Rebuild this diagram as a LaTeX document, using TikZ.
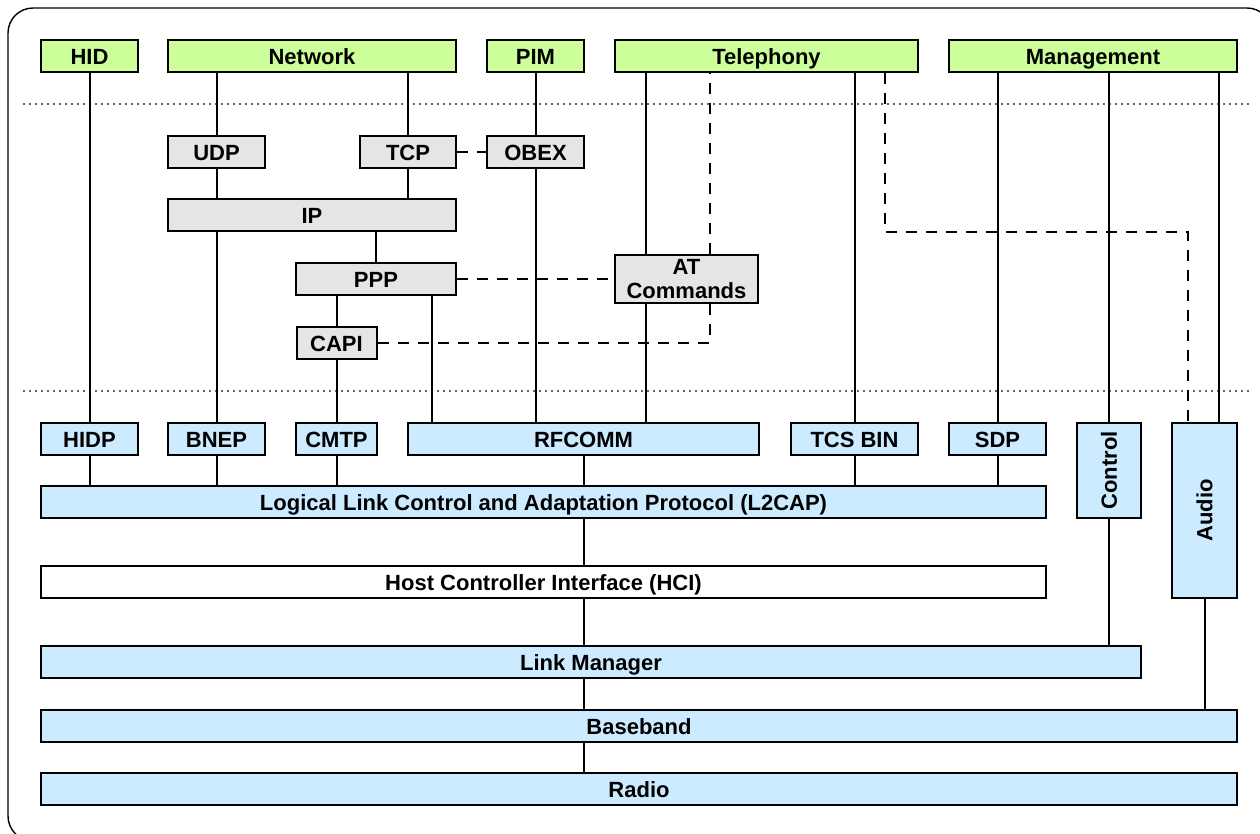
\documentclass[tikz,border=0pt]{standalone}
\usepackage{fontspec}
\setmainfont{Liberation Sans}
\usepackage{graphicx}
\usetikzlibrary{calc}
\definecolor{appgreen}{RGB}{204,255,153}
\definecolor{midgray}{RGB}{229,229,229}
\definecolor{coreblue}{RGB}{204,235,255}
\tikzset{
 base/.style={draw, line width=2pt, inner sep=0pt, font=\bfseries\fontsize{22}{24}\selectfont},
 lbl/.style={text height=16pt, text depth=0pt},
 app/.style={base, lbl, fill=appgreen},
 mid/.style={base, lbl, fill=midgray},
 core/.style={base, lbl, fill=coreblue},
 plain/.style={base, lbl, fill=white},
 wire/.style={line width=2pt},
 dwire/.style={line width=2pt, dash pattern=on 11pt off 9pt},
 sep/.style={line width=1.2pt, dash pattern=on 1.5pt off 4.5pt, black!60}
}
\begin{document}
\begin{tikzpicture}[x=1pt,y=-1pt]
\useasboundingbox (0,0) rectangle (1260,833);
\clip (0,0) rectangle (1260,833);
\draw[line width=1.4pt, rounded corners=25pt] (8,8) rectangle (1272,841);
\draw[sep] (23,104) -- (1250,104);
\draw[sep] (23,391) -- (1250,391);
% application layer
\node[app, minimum width=97pt, minimum height=32pt] (hid) at (89.5,56) {HID};
\node[app, minimum width=288pt, minimum height=32pt] (net) at (312,56) {Network};
\node[app, minimum width=97pt, minimum height=32pt] (pim) at (535.5,56) {PIM};
\node[app, minimum width=303pt, minimum height=32pt] (tel) at (766.5,56) {Telephony};
\node[app, minimum width=288pt, minimum height=32pt] (mgmt) at (1093,56) {Management};
% middleware
\node[mid, minimum width=97pt, minimum height=32pt] (udp) at (216.5,152) {UDP};
\node[mid, minimum width=96pt, minimum height=32pt] (tcp) at (408,152) {TCP};
\node[mid, minimum width=97pt, minimum height=32pt] (obex) at (535.5,152) {OBEX};
\node[mid, minimum width=288pt, minimum height=32pt] (ip) at (312,215) {IP};
\node[mid, minimum width=160pt, minimum height=32pt] (ppp) at (376,279) {PPP};
\node[mid, minimum width=80pt, minimum height=32pt] (capi) at (336.5,343) {CAPI};
\node[base, fill=midgray, align=center, minimum width=143pt, minimum height=48pt] (atcmd) at (686.5,279) {AT\\Commands};
% core protocols
\node[core, minimum width=97pt, minimum height=32pt] (hidp) at (89.5,439) {HIDP};
\node[core, minimum width=97pt, minimum height=32pt] (bnep) at (216.5,439) {BNEP};
\node[core, minimum width=81pt, minimum height=32pt] (cmtp) at (336.5,439) {CMTP};
\node[core, minimum width=351pt, minimum height=32pt] (rfcomm) at (583.5,439) {RFCOMM};
\node[core, minimum width=127pt, minimum height=32pt] (tcsbin) at (854.5,439) {TCS BIN};
\node[core, minimum width=97pt, minimum height=32pt] (sdp) at (997.5,439) {SDP};
\node[base, fill=coreblue, minimum width=64pt, minimum height=95pt] (ctrl) at (1109,470.5) {\rotatebox{90}{Control}};
\node[base, fill=coreblue, minimum width=65pt, minimum height=175pt] (audio) at (1204.5,510.5) {\rotatebox{90}{Audio}};
\node[core, minimum width=1005pt, minimum height=32pt] (l2cap) at (543.5,502) {Logical Link Control and Adaptation Protocol (L2CAP)};
\node[plain, minimum width=1005pt, minimum height=32pt] (hci) at (543.5,582) {Host Controller Interface (HCI)};
\node[core, minimum width=1100pt, minimum height=32pt] (lm) at (591,662) {Link Manager};
\node[core, minimum width=1196pt, minimum height=32pt] (bb) at (639,726) {Baseband};
\node[core, minimum width=1196pt, minimum height=32pt] (radio) at (639,789) {Radio};
% solid connectors
\begin{scope}[wire]
\draw (hid.south) -- (hidp.north);
\draw (hidp.south) -- (hidp.south |- l2cap.north);
\draw (udp.north) -- (udp.north |- net.south);
\draw (udp.south) -- (udp.south |- ip.north);
\draw (bnep.north) -- (bnep.north |- ip.south);
\draw (bnep.south) -- (bnep.south |- l2cap.north);
\draw (tcp.north) -- (tcp.north |- net.south);
\draw (tcp.south) -- (tcp.south |- ip.north);
\draw (ppp.north) -- (ppp.north |- ip.south);
\draw (capi.north) -- (capi.north |- ppp.south);
\draw (capi.south) -- (capi.south |- cmtp.north);
\draw (cmtp.south) -- (cmtp.south |- l2cap.north);
\coordinate (pppr) at ([xshift=137pt]ppp.south west);
\draw (pppr) -- (pppr |- rfcomm.north);
\draw (pim.south) -- (obex.north);
\draw (obex.south) -- (obex.south |- rfcomm.north);
\coordinate (atl) at ([xshift=32pt]atcmd.north west);
\draw (atl) -- (atl |- tel.south);
\draw (atl |- atcmd.south) -- (atl |- rfcomm.north);
\draw (tcsbin.north) -- (tcsbin.north |- tel.south);
\draw (tcsbin.south) -- (tcsbin.south |- l2cap.north);
\draw (sdp.north) -- (sdp.north |- mgmt.south);
\draw (sdp.south) -- (sdp.south |- l2cap.north);
\draw (ctrl.north) -- (ctrl.north |- mgmt.south);
\draw (ctrl.south) -- (ctrl.south |- lm.north);
\coordinate (aur) at ([xshift=48pt]audio.north west);
\draw (aur) -- (aur |- mgmt.south);
\draw (audio.south) -- (audio.south |- bb.north);
\draw (rfcomm.south) -- (rfcomm.south |- l2cap.north);
\draw (rfcomm.south |- l2cap.south) -- (rfcomm.south |- hci.north);
\draw (rfcomm.south |- hci.south) -- (rfcomm.south |- lm.north);
\draw (rfcomm.south |- lm.south) -- (rfcomm.south |- bb.north);
\draw (rfcomm.south |- bb.south) -- (rfcomm.south |- radio.north);
\end{scope}
% dashed connectors
\draw[dwire] (tcp.east) -- (obex.west);
\draw[dwire] (ppp.east) -- (atcmd.west);
\coordinate (atd) at ([xshift=96pt]atcmd.north west);
\draw[dwire] (atd) -- (atd |- tel.south);
\draw[dwire] (atd |- atcmd.south) |- (capi.east);
\coordinate (tdash) at ([xshift=271pt]tel.south west);
\coordinate (adash) at ([xshift=17pt]audio.north west);
\coordinate (tbend) at (adash |- ip.south);
\draw[dwire] (tdash) |- (tbend) -- (adash);
\end{tikzpicture}
\end{document}
